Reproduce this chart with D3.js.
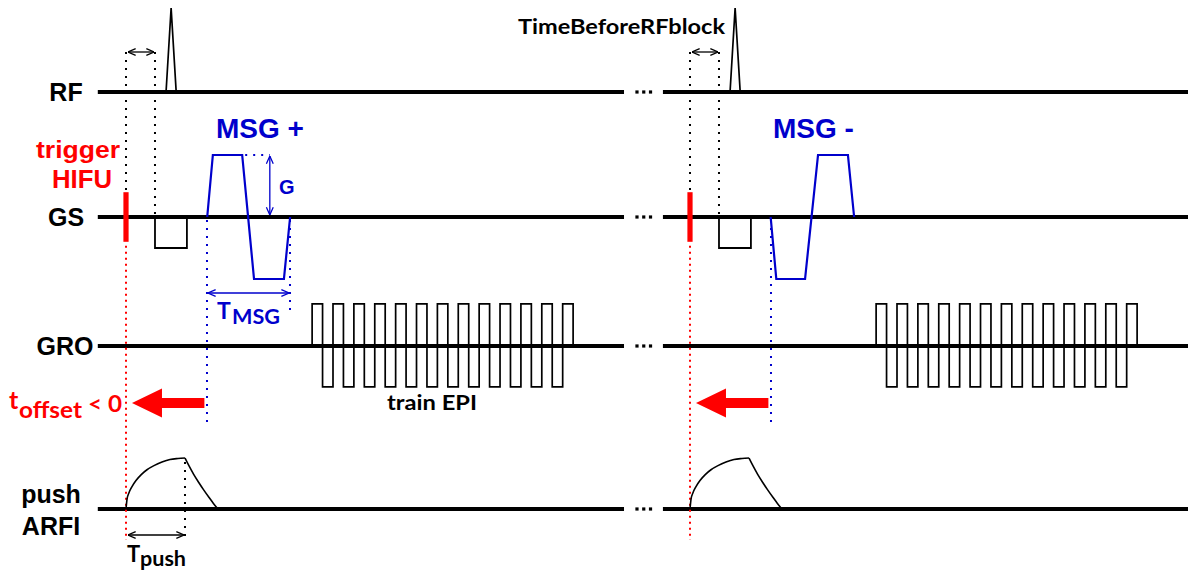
<!DOCTYPE html>
<html><head><meta charset="utf-8">
<script src="https://cdn.jsdelivr.net/npm/d3@7"></script>
<style>
html,body{margin:0;padding:0;background:#fff;}
svg{display:block;}
</style></head>
<body>
<svg id="chart" width="1188" height="571"></svg>
<script>
// ---------------- DATA (time in arbitrary units, trigger at t = 0; second block at t = 100) -------------
const channels = ["RF", "GS", "GRO", "ARFI"];
const channelLabels = [["RF"], ["GS"], ["GRO"], ["push", "ARFI"]];
const blockStarts = [0, 100];
const baselineSegments = [[-5.0, 88.3], [95.2, 188.3]];
const ellipsisTimes = [90.6, 91.8, 93.0];

const rfPulse = [[7.1, 0], [8.0, 1], [8.9, 0]];                 // RF amplitude (rel.)
const timeBeforeRF = 5.14;                                      // RF block start after trigger
const gsRefocus = [[5.14, 0], [5.14, -0.5], [10.8, -0.5], [10.8, 0]];
const msgPlus  = [[14.4, 0], [15.4, 1], [20.6, 1], [22.7, -1], [28.0, -1], [29.1, 0]];
const msgMinus = [[14.3, 0], [15.3, -1], [20.4, -1], [22.7, 1], [28.0, 1], [29.1, 0]];
const msgLabels = ["MSG +", "MSG -"];
const triggerHalfAmp = 0.4;
const tMsg = [14.36, 29.08];
const gArrowTime = 25.5;

const epiStart = 33.0;
const epiLobeDur = 1.851;
const epiLobes = [0.68, -0.66, 0.68, -0.66, 0.68, -0.66, 0.68, -0.66, 0.68, -0.66, 0.68, -0.66, 0.68,
                  -0.66, 0.68, -0.66, 0.68, -0.66, 0.68, -0.66, 0.68, -0.66, 0.68, -0.66, 0.68];

const arfiRise  = [[0, 0], [0.18, 0.19], [0.53, 0.32], [1.06, 0.44], [1.77, 0.56], [2.66, 0.67],
                   [3.72, 0.77], [4.96, 0.85], [6.38, 0.92], [7.80, 0.97], [9.22, 0.99], [10.46, 1.0]];
const arfiDecay = [[10.46, 1.0], [11.2, 0.84], [12.0, 0.68], [12.9, 0.52], [13.8, 0.37],
                   [14.7, 0.23], [15.5, 0.11], [16.3, 0]];
const tPush = 10.46;
const offsetArrow = [13.9, 1.06];   // from MSG start back towards trigger

// ---------------- LAYOUT / STYLE -------------
const svg = d3.select("#chart");
const x = d3.scaleLinear().domain([0, 100]).range([126, 690]);
const base = d3.scaleOrdinal().domain(channels).range([92, 217, 346, 509]);
const gain = {RF: 84, GS: 62, GRO: 62, ARFI: 51};
const y = (ch, a) => base(ch) - a * gain[ch];
const BLUE = "#0000cc", RED = "#ff0000", BLACK = "#000";
const line = d3.line().x(d => x(d[0]));
const ARIAL = "Liberation Sans, Arial, sans-serif";
const cal = "Lato, 'Open Sans', sans-serif";

const defs = svg.append("defs");
[["arrK", BLACK], ["arrB", BLUE]].forEach(([id, c]) => {
  defs.append("marker").attr("id", id).attr("viewBox", "0 0 10 10")
    .attr("refX", 9.5).attr("refY", 5).attr("markerWidth", 9).attr("markerHeight", 9)
    .attr("markerUnits", "userSpaceOnUse").attr("orient", "auto-start-reverse")
    .append("path").attr("d", "M1,1.2 L9.5,5 L1,8.8").attr("fill", "none")
    .attr("stroke", c).attr("stroke-width", 1.4);
});

// baselines
channels.forEach(ch => {
  baselineSegments.forEach(s => {
    svg.append("line").attr("x1", x(s[0])).attr("x2", x(s[1]))
      .attr("y1", base(ch)).attr("y2", base(ch))
      .attr("stroke", BLACK).attr("stroke-width", 4);
  });
  ellipsisTimes.forEach(t => {
    svg.append("rect").attr("x", x(t) - 1.6).attr("y", base(ch) - 1.6)
      .attr("width", 3.2).attr("height", 3.2).attr("fill", BLACK);
  });
});

// channel labels
const labelPos = {RF: [66, [101]], GS: [66, [226]], GRO: [65, [355]], ARFI: [51, [503, 535]]};
channels.forEach((ch, i) => {
  const [cx, ys] = labelPos[ch];
  channelLabels[i].forEach((txt, j) => {
    svg.append("text").attr("x", cx).attr("y", ys[j]).attr("text-anchor", "middle")
      .attr("font-family", ARIAL).attr("font-weight", "bold")
      .attr("font-size", 25).attr("fill", BLACK).text(txt);
  });
});

function dotted(x1, y1, x2, y2, color, dash) {
  svg.append("line").attr("x1", x1).attr("y1", y1).attr("x2", x2).attr("y2", y2)
    .attr("stroke", color).attr("stroke-width", 2).attr("stroke-dasharray", dash);
}
function arrow(x1, y1, x2, y2, id, color) {
  svg.append("line").attr("x1", x1).attr("y1", y1).attr("x2", x2).attr("y2", y2)
    .attr("stroke", color).attr("stroke-width", 1.3)
    .attr("marker-start", `url(#${id})`).attr("marker-end", `url(#${id})`);
}

blockStarts.forEach((t0, bi) => {
  const arrowY = 52;
  dotted(x(t0), arrowY, x(t0), y("GS", triggerHalfAmp) - 2, BLACK, "2,6");
  dotted(x(t0 + timeBeforeRF), arrowY, x(t0 + timeBeforeRF), base("GS") - 2, BLACK, "2,6");
  arrow(x(t0) + 2, arrowY, x(t0 + timeBeforeRF) - 1, arrowY, "arrK", BLACK);

  svg.append("path").attr("d", line.y(d => y("RF", d[1]))(rfPulse.map(d => [d[0] + t0, d[1]])))
    .attr("fill", "none").attr("stroke", BLACK).attr("stroke-width", 1.7);

  svg.append("path").attr("d", line.y(d => y("GS", d[1]))(gsRefocus.map(d => [d[0] + t0, d[1]])))
    .attr("fill", "none").attr("stroke", BLACK).attr("stroke-width", 1.8);

  const msg = bi === 0 ? msgPlus : msgMinus;
  svg.append("path").attr("d", line.y(d => y("GS", d[1]))(msg.map(d => [d[0] + t0, d[1]])))
    .attr("fill", "none").attr("stroke", BLUE).attr("stroke-width", 2.2);
  svg.append("text").attr("x", bi === 0 ? 216 : 773).attr("y", 138)
    .attr("font-family", ARIAL).attr("font-weight", "bold")
    .attr("font-size", 28).attr("fill", BLUE).text(msgLabels[bi]);

  dotted(x(t0 + tMsg[0]), base("GS") + 3, x(t0 + tMsg[0]), 428, BLUE, "2,6");

  svg.append("rect").attr("x", x(t0) - 2.6).attr("width", 5.2)
    .attr("y", y("GS", triggerHalfAmp)).attr("height", y("GS", -triggerHalfAmp) - y("GS", triggerHalfAmp))
    .attr("fill", RED);
  dotted(x(t0), y("GS", -triggerHalfAmp) + 4, x(t0), 540, RED, "2,4");

  let p = d3.path();
  let t = t0 + epiStart;
  p.moveTo(x(t), base("GRO"));
  epiLobes.forEach(a => {
    p.lineTo(x(t), y("GRO", a));
    t += epiLobeDur;
    p.lineTo(x(t), y("GRO", a));
    p.lineTo(x(t), base("GRO"));
  });
  svg.append("path").attr("d", p.toString()).attr("fill", "none")
    .attr("stroke", BLACK).attr("stroke-width", 1.7);

  const ay = 403;
  const xs = x(t0 + offsetArrow[0]), xt = x(t0 + offsetArrow[1]);
  const headLen = 30;
  svg.append("path").attr("d",
    `M${xs},${ay - 5} L${xt + headLen},${ay - 5} L${xt + headLen},${ay - 14.5} L${xt},${ay} ` +
    `L${xt + headLen},${ay + 14.5} L${xt + headLen},${ay + 5} L${xs},${ay + 5} Z`).attr("fill", RED);

  const curve = d3.line().x(d => x(d[0] + t0)).y(d => y("ARFI", d[1])).curve(d3.curveMonotoneX);
  svg.append("path").attr("d", curve(arfiRise)).attr("fill", "none").attr("stroke", BLACK).attr("stroke-width", 1.6);
  svg.append("path").attr("d", curve(arfiDecay)).attr("fill", "none").attr("stroke", BLACK).attr("stroke-width", 1.6);
});

// ---- left-block annotations ----
dotted(x(msgPlus[2][0]) + 3, y("GS", 1), x(gArrowTime), y("GS", 1), BLUE, "2,6");
arrow(x(gArrowTime), y("GS", 1) + 1, x(gArrowTime), base("GS") - 2, "arrB", BLUE);
svg.append("text").attr("x", 279).attr("y", 194).attr("font-family", ARIAL)
  .attr("font-weight", "bold").attr("font-size", 20).attr("fill", BLUE).text("G");

dotted(x(tMsg[1]), base("GS") + 3, x(tMsg[1]), 315, BLUE, "2,6");
arrow(x(tMsg[0]) + 1, 293, x(tMsg[1]) - 1, 293, "arrB", BLUE);
svg.append("text").attr("x", 217).attr("y", 319).attr("font-family", cal).attr("font-weight", "bold")
  .attr("font-size", 23).attr("fill", BLUE).text("T");
svg.append("text").attr("x", 232).attr("y", 324).attr("font-family", cal).attr("font-weight", "bold")
  .attr("font-size", 21).attr("fill", BLUE).attr("textLength", 48).attr("lengthAdjust", "spacingAndGlyphs").text("MSG");

svg.append("text").attr("x", 36).attr("y", 158).attr("font-family", ARIAL)
  .attr("font-weight", "bold").attr("font-size", 24).attr("fill", RED)
  .attr("textLength", 84).attr("lengthAdjust", "spacingAndGlyphs").text("trigger");
svg.append("text").attr("x", 52).attr("y", 188).attr("font-family", ARIAL)
  .attr("font-weight", "bold").attr("font-size", 25).attr("fill", RED)
  .attr("textLength", 60).attr("lengthAdjust", "spacingAndGlyphs").text("HIFU");

svg.append("text").attr("x", 9).attr("y", 409).attr("font-family", cal).attr("font-weight", "bold")
  .attr("font-size", 25).attr("fill", RED).text("t");
svg.append("text").attr("x", 19).attr("y", 418).attr("font-family", cal).attr("font-weight", "bold")
  .attr("font-size", 23).attr("fill", RED).attr("textLength", 63).attr("lengthAdjust", "spacingAndGlyphs").text("offset");
svg.append("text").attr("x", 88).attr("y", 412).attr("font-family", cal).attr("font-weight", "bold")
  .attr("font-size", 22).attr("fill", RED).attr("textLength", 34).attr("lengthAdjust", "spacingAndGlyphs").text("< 0");

svg.append("text").attr("x", 387).attr("y", 410).attr("font-family", cal).attr("font-weight", "bold")
  .attr("font-size", 20).attr("fill", BLACK).attr("textLength", 90).attr("lengthAdjust", "spacingAndGlyphs").text("train EPI");

dotted(x(tPush), y("ARFI", 1) + 4, x(tPush), 538, BLACK, "2,6");
arrow(x(0) + 2, 535, x(tPush) - 1, 535, "arrK", BLACK);
svg.append("text").attr("x", 127).attr("y", 562).attr("font-family", cal).attr("font-weight", "bold")
  .attr("font-size", 22).attr("fill", BLACK).text("T");
svg.append("text").attr("x", 140).attr("y", 566).attr("font-family", cal).attr("font-weight", "bold")
  .attr("font-size", 20).attr("fill", BLACK).attr("textLength", 46).attr("lengthAdjust", "spacingAndGlyphs").text("push");

svg.append("text").attr("x", 518).attr("y", 34).attr("font-family", cal).attr("font-weight", "bold")
  .attr("font-size", 20).attr("fill", BLACK).attr("textLength", 207).attr("lengthAdjust", "spacingAndGlyphs").text("TimeBeforeRFblock");
</script>
</body></html>
